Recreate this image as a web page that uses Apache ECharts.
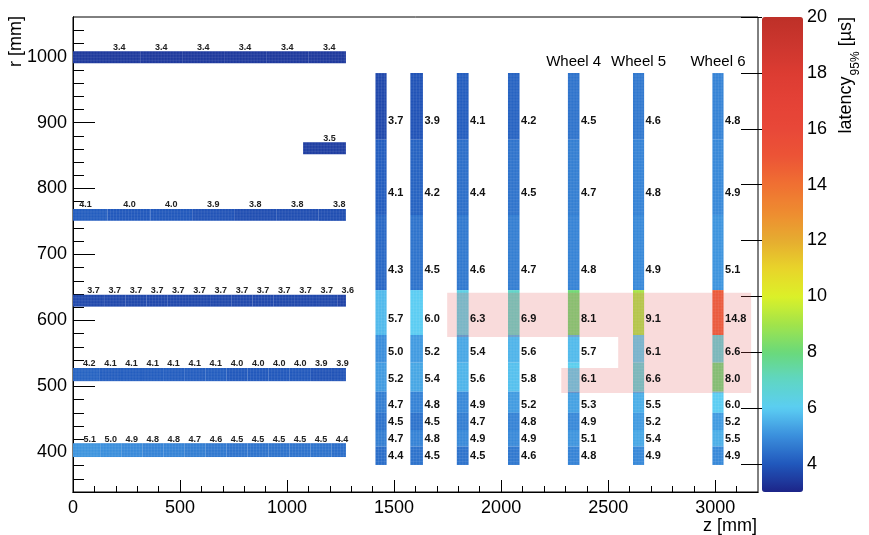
<!DOCTYPE html>
<html><head><meta charset="utf-8">
<script src="https://cdn.jsdelivr.net/npm/echarts@6/dist/echarts.min.js"></script>
<style>html,body{margin:0;padding:0;background:#fff}#c{width:869px;height:535px}</style>
</head><body><div id="c"></div>
<script>
// ---------------- DATA ----------------
// Barrel layers (z extent, r extent, label z positions, values)
const barrelR0 = [990, 852, 751, 621, 508, 393];
const barrelR1 = [1008, 870, 769, 639, 528, 414];
const barrelZStart = [0, 1075, 0, 0, 0, 0];
const barrelZEnd = [1275, 1275, 1275, 1275, 1275, 1275];
const barrelLabelZ = [
  [216, 412, 608, 804, 1001, 1197],
  [1198],
  [58, 264, 459, 655, 851, 1048, 1244],
  [96, 195, 294, 393, 492, 591, 690, 789, 888, 987, 1086, 1185, 1284],
  [76, 175, 273, 372, 470, 569, 667, 766, 865, 963, 1062, 1160, 1259],
  [78, 176, 275, 373, 471, 569, 668, 766, 864, 962, 1061, 1159, 1257]
];
const barrelValues = [
  [3.4, 3.4, 3.4, 3.4, 3.4, 3.4],
  [3.5],
  [4.1, 4.0, 4.0, 3.9, 3.8, 3.8, 3.8],
  [3.7, 3.7, 3.7, 3.7, 3.7, 3.7, 3.7, 3.7, 3.7, 3.7, 3.7, 3.7, 3.6],
  [4.2, 4.1, 4.1, 4.1, 4.1, 4.1, 4.1, 4.0, 4.0, 4.0, 4.0, 3.9, 3.9],
  [5.1, 5.0, 4.9, 4.8, 4.8, 4.7, 4.6, 4.5, 4.5, 4.5, 4.5, 4.5, 4.4]
];

// Endcap wheels
const wheelZ0 = [1413, 1576, 1793, 2032, 2312, 2616, 2987];
const wheelZ1 = [1465, 1635, 1848, 2086, 2366, 2668, 3039];
const wheelNames = ['', '', '', '', 'Wheel 4', 'Wheel 5', 'Wheel 6'];
const wheelNameR = 992;
const ringREdges = [975, 874, 760, 646, 578, 536, 492, 460, 434, 409, 381];
const ringLabelR = [902, 794, 677, 602, 552, 511, 472, 446, 421, 395];
const wheelValues = [
  [3.7, 4.1, 4.3, 5.7, 5.0, 5.2, 4.7, 4.5, 4.7, 4.4],
  [3.9, 4.2, 4.5, 6.0, 5.2, 5.4, 4.8, 4.5, 4.8, 4.5],
  [4.1, 4.4, 4.6, 6.3, 5.4, 5.6, 4.9, 4.7, 4.9, 4.5],
  [4.2, 4.5, 4.7, 6.9, 5.6, 5.8, 5.2, 4.8, 4.9, 4.6],
  [4.5, 4.7, 4.8, 8.1, 5.7, 6.1, 5.3, 4.9, 5.1, 4.8],
  [4.6, 4.8, 4.9, 9.1, 6.1, 6.6, 5.5, 5.2, 5.4, 4.9],
  [4.8, 4.9, 5.1, 14.8, 6.6, 8.0, 6.0, 5.2, 5.5, 4.9]
];

// Highlighted (hot) region outline
const hotZ = [1748, 3168, 3168, 2281, 2281, 2547, 2547, 1748];
const hotR = [642, 642, 490, 490, 528, 528, 575, 575];

// Ticks
const xMajorTicks = [0, 500, 1000, 1500, 2000, 2500, 3000];
const xMinorTicks = [100, 200, 300, 400, 600, 700, 800, 900, 1100, 1200, 1300, 1400, 1600, 1700, 1800, 1900, 2100, 2200, 2300, 2400, 2600, 2700, 2800, 2900, 3100];
const yMajorTicks = [400, 500, 600, 700, 800, 900, 1000];
const yMinorTicks = [360, 380, 420, 440, 460, 480, 520, 540, 560, 580, 620, 640, 660, 680, 720, 740, 760, 780, 820, 840, 860, 880, 920, 940, 960, 980, 1020, 1040];
const zTicks = [4, 6, 8, 10, 12, 14, 16, 18, 20];

// Palette (value 3 .. 20)
const palette = ['#1c2488', '#2158bc', '#3a8edc', '#5bcdf3', '#5fd6c4', '#6ad97a', '#a2e44a', '#dcf028', '#e8d42a', '#e6ac30', '#ee8c30', '#f07032', '#ec5436', '#e84838', '#e44236', '#dc3c32', '#cc362e', '#bd3028'];

// ---------------- BUILD ----------------
const FONT = 'Liberation Sans, Arial, Helvetica, sans-serif';
const barrelCells = [], barrelLabels = [];
barrelValues.forEach((vals, li) => {
  const zs = barrelLabelZ[li];
  vals.forEach((v, i) => {
    const a = i === 0 ? barrelZStart[li] : (zs[i - 1] + zs[i]) / 2;
    const b = i === vals.length - 1 ? barrelZEnd[li] : (zs[i] + zs[i + 1]) / 2;
    barrelCells.push([a, b, barrelR0[li], barrelR1[li], v]);
    barrelLabels.push([zs[i], barrelR1[li], v]);
  });
});
const endcapCells = [], endcapLabels = [];
wheelValues.forEach((vals, wi) => {
  vals.forEach((v, si) => {
    endcapCells.push([wheelZ0[wi], wheelZ1[wi], ringREdges[si + 1], ringREdges[si], v]);
    endcapLabels.push([wheelZ1[wi], ringLabelR[si], v]);
  });
});
const wheelLabelData = [];
wheelNames.forEach((n, i) => { if (n) wheelLabelData.push([(wheelZ0[i] + wheelZ1[i]) / 2, wheelNameR, i]); });
const hotData = hotZ.map((z, i) => [z, hotR[i]]);

function renderCell(params, api) {
  const p0 = api.coord([api.value(0), api.value(3)]);
  const p1 = api.coord([api.value(1), api.value(2)]);
  const x = p0[0], y = p0[1], w = p1[0] - p0[0], h = p1[1] - p0[1];
  const color = api.visual('color');
  const children = [{ type: 'rect', shape: { x: x, y: y, width: w, height: h }, style: { fill: color } }];
  const step = 3;
  const ls = { stroke: 'rgba(255,255,255,0.14)', lineWidth: 0.6 };
  for (let gx = x + step; gx < x + w - 0.5; gx += step)
    children.push({ type: 'line', shape: { x1: gx, y1: y, x2: gx, y2: y + h }, style: ls });
  for (let gy = y + step; gy < y + h - 0.5; gy += step)
    children.push({ type: 'line', shape: { x1: x, y1: gy, x2: x + w, y2: gy }, style: ls });
  return { type: 'group', children: children };
}

const chart = echarts.init(document.getElementById('c'), null, { renderer: 'canvas' });
const axisCommon = { type: 'value', splitLine: { show: false }, axisLine: { show: true, onZero: false, lineStyle: { color: '#000', width: 1 } } };
const labelStyle = { fontSize: 18, color: '#000', fontFamily: FONT, formatter: function (v) { return String(v); } };

// measure title parts
const mctx = document.createElement('canvas').getContext('2d');
function tw(t, size) { mctx.font = size + 'px ' + FONT; return mctx.measureText(t).width; }
const wBr = tw('[\u00b5s]', 18), w95 = tw('95%', 12);
const yBr = 17, y95 = yBr + wBr + 5, yLat = y95 + w95 + 1;

chart.setOption({
  animation: false,
  backgroundColor: '#fff',
  grid: [
    { left: 73, right: 111, top: 17, bottom: 43, show: true, borderColor: '#000', borderWidth: 1, backgroundColor: 'transparent' },
    { left: 762, top: 17, width: 41, height: 475, show: false }
  ],
  xAxis: [
    Object.assign({}, axisCommon, { gridIndex: 0, min: 0, max: 3200, position: 'bottom',
      axisTick: { show: true, inside: true, length: 6, customValues: xMinorTicks, lineStyle: { color: '#000' } },
      axisLabel: { show: false } }),
    Object.assign({}, axisCommon, { gridIndex: 0, min: 0, max: 3200, position: 'bottom',
      axisTick: { show: true, inside: true, length: 12, customValues: xMajorTicks, lineStyle: { color: '#000' } },
      axisLabel: Object.assign({ show: true, margin: 7, customValues: xMajorTicks }, labelStyle) }),
    { gridIndex: 1, type: 'value', min: 0, max: 1, show: false }
  ],
  yAxis: [
    Object.assign({}, axisCommon, { gridIndex: 0, min: 340, max: 1060, position: 'left',
      axisTick: { show: true, inside: true, length: 11, customValues: yMinorTicks, lineStyle: { color: '#000' } },
      axisLabel: { show: false } }),
    Object.assign({}, axisCommon, { gridIndex: 0, min: 340, max: 1060, position: 'left',
      axisTick: { show: true, inside: true, length: 22, customValues: yMajorTicks, lineStyle: { color: '#000' } },
      axisLabel: Object.assign({ show: true, margin: 6, customValues: yMajorTicks }, labelStyle) }),
    { gridIndex: 1, type: 'value', min: 3, max: 20, position: 'right', splitLine: { show: false },
      axisLine: { show: false },
      axisTick: { show: true, inside: true, length: 21, customValues: zTicks, lineStyle: { color: '#000' } },
      axisLabel: Object.assign({ show: true, margin: 4, customValues: zTicks }, labelStyle) }
  ],
  visualMap: {
    type: 'continuous', min: 3, max: 20, dimension: 4, seriesIndex: [0, 1],
    inRange: { color: palette }, calculable: false, orient: 'vertical',
    left: 762, top: 17, itemWidth: 41, itemHeight: 475, padding: 0, show: true, hoverLink: false,
    textStyle: { color: 'transparent' }
  },
  series: [
    { type: 'custom', name: 'barrel', xAxisIndex: 1, yAxisIndex: 1, encode: { x: [0, 1], y: [2, 3] },
      data: barrelCells, renderItem: renderCell, silent: true, z: 2 },
    { type: 'custom', name: 'endcap', xAxisIndex: 1, yAxisIndex: 1, encode: { x: [0, 1], y: [2, 3] },
      data: endcapCells, renderItem: renderCell, silent: true, z: 2 },
    { type: 'custom', name: 'hot', xAxisIndex: 1, yAxisIndex: 1, encode: { x: 0, y: 1 }, data: hotData, silent: true, z: 3,
      renderItem: function (params, api) {
        if (params.dataIndex !== 0) return null;
        const pts = hotData.map(d => api.coord(d));
        return { type: 'polygon', shape: { points: pts }, style: { fill: 'rgba(226,90,90,0.22)' } };
      } },
    { type: 'custom', name: 'barrelLabels', xAxisIndex: 1, yAxisIndex: 1, encode: { x: 0, y: 1 }, data: barrelLabels, silent: true, z: 5,
      renderItem: function (params, api) {
        const p = api.coord([api.value(0), api.value(1)]);
        return { type: 'text', x: p[0], y: p[1] + 0.5, style: { text: api.value(2).toFixed(1), fill: '#222',
          fontSize: 9, fontWeight: 'bold', fontFamily: FONT, textAlign: 'center', align: 'center', textVerticalAlign: 'bottom', verticalAlign: 'bottom' } };
      } },
    { type: 'custom', name: 'endcapLabels', xAxisIndex: 1, yAxisIndex: 1, encode: { x: 0, y: 1 }, data: endcapLabels, silent: true, z: 5,
      renderItem: function (params, api) {
        const p = api.coord([api.value(0), api.value(1)]);
        return { type: 'text', x: p[0] + 1.5, y: p[1], style: { text: api.value(2).toFixed(1), fill: '#111',
          fontSize: 11, fontWeight: 'bold', fontFamily: FONT, textAlign: 'left', align: 'left', textVerticalAlign: 'middle', verticalAlign: 'middle' } };
      } },
    { type: 'custom', name: 'wheelNames', xAxisIndex: 1, yAxisIndex: 1, encode: { x: 0, y: 1 }, data: wheelLabelData, silent: true, z: 5,
      renderItem: function (params, api) {
        const p = api.coord([api.value(0), api.value(1)]);
        return { type: 'text', x: p[0], y: p[1], style: { text: wheelNames[api.value(2)], fill: '#000',
          fontSize: 15, fontFamily: FONT, textAlign: 'center', align: 'center', textVerticalAlign: 'middle', verticalAlign: 'middle' } };
      } }
  ],
  graphic: [
    { type: 'text', x: 16, y: 16, rotation: Math.PI / 2, style: { text: 'r [mm]', fill: '#000', fontSize: 18, fontFamily: FONT, textAlign: 'right', align: 'right', textVerticalAlign: 'middle', verticalAlign: 'middle' } },
    { type: 'text', x: 757, y: 526, style: { text: 'z [mm]', fill: '#000', fontSize: 18, fontFamily: FONT, textAlign: 'right', align: 'right', textVerticalAlign: 'middle', verticalAlign: 'middle' } },
    { type: 'text', x: 846, y: yBr, rotation: Math.PI / 2, style: { text: '[\u00b5s]', fill: '#000', fontSize: 18, fontFamily: FONT, textAlign: 'right', align: 'right', textVerticalAlign: 'middle', verticalAlign: 'middle' } },
    { type: 'text', x: 856, y: y95, rotation: Math.PI / 2, style: { text: '95%', fill: '#000', fontSize: 12, fontFamily: FONT, textAlign: 'right', align: 'right', textVerticalAlign: 'middle', verticalAlign: 'middle' } },
    { type: 'text', x: 846, y: yLat, rotation: Math.PI / 2, style: { text: 'latency', fill: '#000', fontSize: 18, fontFamily: FONT, textAlign: 'right', align: 'right', textVerticalAlign: 'middle', verticalAlign: 'middle' } }
  ]
});
</script>
</body></html>
